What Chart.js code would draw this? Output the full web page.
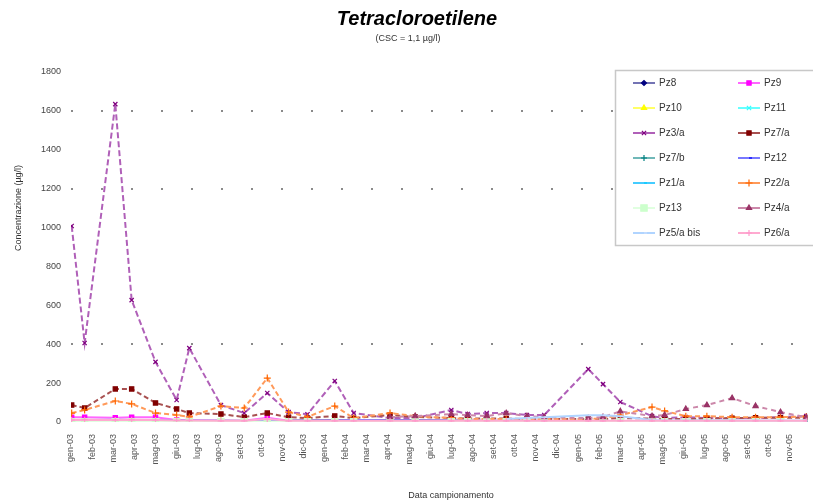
<!DOCTYPE html>
<html><head><meta charset="utf-8">
<script src="https://cdn.jsdelivr.net/npm/chart.js@4.4.0/dist/chart.umd.min.js"></script>
<style>html,body{margin:0;padding:0;background:#fff}</style>
</head><body>
<canvas id="c" width="813" height="504"></canvas>
<script>
// ---- DATA ----
const sampleDates = ['2003-01-02','2003-01-21','2003-03-04','2003-03-28','2003-05-01','2003-06-01','2003-06-19','2003-08-04','2003-09-07','2003-10-10','2003-11-10','2003-12-07','2004-01-16','2004-02-12','2004-04-04','2004-05-10','2004-07-01','2004-07-25','2004-08-22','2004-09-19','2004-10-19','2004-11-13','2005-01-16','2005-02-06','2005-03-01','2005-04-16','2005-05-04','2005-06-04','2005-07-04','2005-08-10','2005-09-13','2005-10-19','2005-11-25'];
const tickLabels = ['gen-03','feb-03','mar-03','apr-03','mag-03','giu-03','lug-03','ago-03','set-03','ott-03','nov-03','dic-03','gen-04','feb-04','mar-04','apr-04','mag-04','giu-04','lug-04','ago-04','set-04','ott-04','nov-04','dic-04','gen-05','feb-05','mar-05','apr-05','mag-05','giu-05','lug-05','ago-05','set-05','ott-05','nov-05'];
const seriesNames = ['Pz8','Pz9','Pz10','Pz11','Pz3/a','Pz7/a','Pz7/b','Pz12','Pz1/a','Pz2/a','Pz13','Pz4/a','Pz5/a bis','Pz6/a'];
const pz8  = [4,5,6,5,4,5,6,6,5,6,8,9,10,10,10,10,8,6,5,5,4,4,4,4,5,4,4,4,3,3,3,3,3];
const pz9  = [25,25,22,25,24,10,8,6,6,22,6,5,5,5,5,5,5,5,5,5,5,5,5,5,5,5,5,5,5,5,5,5,5];
const pz10 = [3,3,4,3,4,5,5,5,6,4,5,4,3,3,3,4,3,3,3,3,3,3,3,3,3,3,3,3,3,3,3,3,3];
const pz11 = [3,6,8,4,3,3,3,3,3,3,3,3,3,3,3,3,3,3,3,3,3,3,3,3,3,3,3,3,3,3,3,3,3];
const pz3a = [1008,406,1635,627,309,113,380,87,46,149,51,40,211,46,20,20,62,41,46,46,36,36,272,195,103,30,20,25,20,20,20,25,30];
const pz7a = [87,72,170,170,98,67,46,41,25,46,25,20,31,20,36,26,20,18,18,18,15,15,15,15,20,18,15,15,18,20,22,22,22];
const pz7b = [4,4,5,4,4,4,4,4,4,4,4,4,4,4,4,4,4,4,4,4,4,4,4,4,4,4,5,6,6,6,4,4,4];
const pz12 = [8,10,12,10,10,9,8,7,6,6,6,6,8,10,9,8,8,7,6,6,6,5,5,5,5,5,5,5,5,5,5,5,5];
const pz1a = [2,2,2,2,2,2,2,2,2,2,2,2,2,2,2,2,2,2,2,2,2,2,2,2,3,3,3,4,4,4,3,3,3];
const pz2a = [46,62,108,93,46,36,26,82,72,226,51,26,82,20,46,30,20,15,15,15,15,15,15,20,35,77,57,30,30,25,25,25,28];
const pz13 = [1,1,1,1,1,1,1,1,1,1,1,1,1,1,1,1,1,1,1,1,1,1,1,1,1,1,1,1,1,1,1,1,1];
const pz4a = [null,null,null,null,null,null,null,null,null,null,null,null,null,null,25,30,40,35,30,45,30,25,20,25,55,30,36,67,87,123,82,51,25];
const pz5abis = [null,null,null,null,null,null,null,null,null,null,null,null,null,null,null,null,null,null,null,15,20,25,35,35,30,10,8,8,8,8,8,8,8];
const pz6a = [10,12,10,12,10,8,8,6,6,15,6,6,6,6,6,6,6,6,6,6,6,6,6,6,6,6,6,6,6,6,6,6,6];
const yTicks = [0,200,400,600,800,1000,1200,1400,1600,1800];
const seriesValues = [pz8,pz9,pz10,pz11,pz3a,pz7a,pz7b,pz12,pz1a,pz2a,pz13,pz4a,pz5abis,pz6a];

// ---- STYLES ----
const styles = [
  {line:'#7474b4', mark:'#000080', ps:'rectRot', r:2.5, dash:[]},
  {line:'#ff66ff', mark:'#ff00ff', ps:'rect', r:3, dash:[]},
  {line:'#ffff66', mark:'#ffff00', ps:'triangle', r:3, dash:[]},
  {line:'#66ffff', mark:'#33ffff', ps:'crossRot', r:3, dash:[]},
  {line:'#b060b8', mark:'#800080', ps:'crossRot', r:3, dash:[6,3]},
  {line:'#a85050', mark:'#800000', ps:'rect', r:3, dash:[5,3]},
  {line:'#70b8b8', mark:'#008080', ps:'cross', r:3, dash:[]},
  {line:'#7878ff', mark:'#0000ff', ps:'dash', r:3, dash:[]},
  {line:'#44ccff', mark:'#00ccff', ps:'dash', r:3, dash:[]},
  {line:'#ff9a5a', mark:'#ff6600', ps:'cross', r:3.5, dash:[5,3]},
  {line:'#e0ffe0', mark:'#ccffcc', ps:'rect', r:4.5, dash:[]},
  {line:'#cc88aa', mark:'#993366', ps:'triangle', r:3, dash:[5,4]},
  {line:'#b0d4ff', mark:'#cce0ff', ps:'dash', r:3, dash:[]},
  {line:'#ffaad0', mark:'#ff99cc', ps:'cross', r:3, dash:[]}
];

const daysIn = (y,m)=>new Date(y,m,0).getDate();
const monthIdx = sampleDates.map(s=>{const [y,m,d]=s.split('-').map(Number);return (y-2003)*12+(m-1)+(d-1)/daysIn(y,m);});

const datasets = seriesNames.map((name,i)=>({
  label:name,
  data: monthIdx.map((x,k)=>({x:x,y:seriesValues[i][k]})).filter(p=>p.y!==null),
  borderColor:styles[i].line, backgroundColor:styles[i].mark,
  pointBorderColor:styles[i].mark, pointBackgroundColor:styles[i].mark,
  pointStyle:styles[i].ps, pointRadius:styles[i].r, pointBorderWidth:1.2,
  borderWidth:2, borderDash:styles[i].dash, tension:0, spanGaps:true,
  order: seriesNames.length - i
}));

const FONT = '"Liberation Sans", Arial, sans-serif';

const deco = {
  id:'deco',
  afterDraw(chart){
    const ctx = chart.ctx;
    ctx.save();
    ctx.fillStyle='#000';
    ctx.textAlign='center'; ctx.textBaseline='alphabetic';
    ctx.font='italic bold 20px '+FONT;
    ctx.fillText('Tetracloroetilene',417,25);
    ctx.font='9px '+FONT; ctx.fillStyle='#333';
    ctx.fillText('(CSC = 1,1 µg/l)',408,41);
    ctx.font='9px '+FONT;
    ctx.fillText('Data campionamento',451,498);
    ctx.translate(21,208); ctx.rotate(-Math.PI/2);
    ctx.fillText('Concentrazione (µg/l)',0,0);
    ctx.restore();
    // legend
    ctx.save();
    const lx=615, ly=70, lw=200, lh=175;
    ctx.fillStyle='#fff'; ctx.fillRect(lx,ly,lw,lh);
    ctx.strokeStyle='#c8c8c8'; ctx.lineWidth=1.5; ctx.strokeRect(lx+0.5,ly+0.5,lw,lh);
    ctx.font='10px '+FONT; ctx.textAlign='left'; ctx.textBaseline='middle';
    seriesNames.forEach((n,i)=>{
      const col=i%2, row=Math.floor(i/2);
      const x0 = col===0?633:738, y0 = 83+row*25;
      const st = styles[i];
      ctx.strokeStyle=st.line; ctx.lineWidth=2; ctx.setLineDash([]);
      ctx.beginPath(); ctx.moveTo(x0,y0); ctx.lineTo(x0+22,y0); ctx.stroke();
      ctx.fillStyle=st.mark; ctx.strokeStyle=st.mark; ctx.lineWidth=1.2;
      Chart.helpers.drawPoint(ctx,{pointStyle:st.ps,radius:st.r,rotation:0,borderWidth:1.2},x0+11,y0);
      ctx.fillStyle='#333';
      ctx.fillText(n,x0+26,y0);
    });
    ctx.restore();
  }
};

new Chart(document.getElementById('c'),{
  type:'line',
  data:{datasets},
  plugins:[deco],
  options:{
    responsive:false, animation:false, devicePixelRatio:1,
    layout:{padding:{left:0,right:0,top:72,bottom:0}},
    plugins:{legend:{display:false},tooltip:{enabled:false}},
    scales:{
      x:{type:'linear',min:0,max:34.85,
        grid:{display:false}, border:{display:false},
        afterBuildTicks:s=>{s.ticks=tickLabels.map((_,i)=>({value:i}));},
        afterFit:s=>{s.height=82;},
        ticks:{autoSkip:false,minRotation:90,maxRotation:90,padding:4,color:'#555',font:{size:9,family:FONT},
          callback:v=>tickLabels[v]!==undefined?tickLabels[v]:''}
      },
      y:{min:0,max:1800,
        afterBuildTicks:s=>{s.ticks=yTicks.map(v=>({value:v}));},
        afterFit:s=>{s.width=71;},
        border:{display:false,dash:[2,28]},
        grid:{drawTicks:false,lineWidth:2,
          color:c=>[400,1200,1600].includes(c.tick&&c.tick.value)?'#8a8a8a':'rgba(0,0,0,0)'},
        ticks:{padding:10,color:'#444',font:{size:9,family:FONT},callback:v=>String(v)}
      }
    }
  }
});
</script>
</body></html>
